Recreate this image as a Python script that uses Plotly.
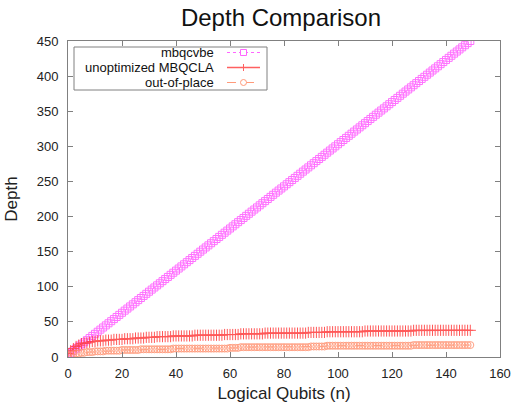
import plotly.graph_objects as go

# Logical qubit counts
n_values = list(range(0, 150))

mbqcvbe = [
    3, 6, 9, 12, 15, 18, 21, 24, 27, 30, 33, 36, 39, 42, 45, 48, 51, 54, 57, 60,
    63, 66, 69, 72, 75, 78, 81, 84, 87, 90, 93, 96, 99, 102, 105, 108, 111, 114, 117, 120,
    123, 126, 129, 132, 135, 138, 141, 144, 147, 150, 153, 156, 159, 162, 165, 168, 171, 174, 177, 180,
    183, 186, 189, 192, 195, 198, 201, 204, 207, 210, 213, 216, 219, 222, 225, 228, 231, 234, 237, 240,
    243, 246, 249, 252, 255, 258, 261, 264, 267, 270, 273, 276, 279, 282, 285, 288, 291, 294, 297, 300,
    303, 306, 309, 312, 315, 318, 321, 324, 327, 330, 333, 336, 339, 342, 345, 348, 351, 354, 357, 360,
    363, 366, 369, 372, 375, 378, 381, 384, 387, 390, 393, 396, 399, 402, 405, 408, 411, 414, 417, 420,
    423, 426, 429, 432, 435, 438, 441, 444, 447, 450,
]

unoptimized_mbqcla = [
    5, 9, 12, 15, 17, 19, 20, 20, 21, 22, 22, 23, 23, 23, 24, 24,
    24, 25, 25, 25, 25, 26, 26, 26, 26, 27, 27, 27, 27, 28, 28, 28,
    28, 29, 29, 29, 29, 29, 29, 30, 30, 30, 30, 30, 30, 30, 30, 31,
    31, 31, 31, 31, 31, 31, 31, 31, 31, 31, 32, 32, 32, 32, 32, 32,
    33, 33, 33, 33, 33, 33, 33, 33, 33, 34, 34, 34, 34, 34, 34, 34,
    34, 34, 34, 34, 34, 34, 34, 34, 34, 35, 35, 35, 35, 35, 35, 35,
    36, 36, 36, 36, 36, 36, 36, 36, 36, 36, 36, 36, 36, 36, 37, 37,
    37, 37, 37, 37, 37, 37, 37, 37, 37, 37, 37, 37, 37, 37, 37, 37,
    38, 38, 38, 38, 38, 38, 38, 38, 38, 38, 38, 38, 38, 38, 38, 38,
    38, 38, 38, 38, 38, 38,
]

out_of_place = [
    2, 3, 4, 5, 5, 6, 6, 7, 7, 7, 8, 8, 8, 8, 9, 9,
    9, 9, 9, 9, 10, 10, 10, 10, 10, 10, 10, 11, 11, 11, 11, 11,
    11, 11, 11, 11, 11, 11, 11, 12, 12, 12, 12, 12, 12, 12, 12, 12,
    12, 12, 12, 12, 12, 12, 12, 12, 12, 12, 12, 12, 13, 13, 13, 13,
    14, 14, 14, 14, 14, 14, 14, 14, 14, 14, 14, 14, 14, 14, 14, 14,
    14, 14, 14, 14, 14, 14, 14, 14, 14, 14, 15, 15, 15, 15, 15, 15,
    16, 16, 16, 16, 16, 16, 16, 16, 16, 16, 16, 16, 16, 16, 16, 16,
    16, 16, 16, 16, 16, 16, 16, 16, 16, 16, 16, 16, 16, 16, 16, 16,
    17, 17, 17, 17, 17, 17, 17, 17, 17, 17, 17, 17, 17, 17, 17, 17,
    17, 17, 17, 17, 17, 17,
]

series_names = ["mbqcvbe", "unoptimized MBQCLA", "out-of-place"]
series_values = [mbqcvbe, unoptimized_mbqcla, out_of_place]
colors = ["#ff4dff", "#ff3030", "#ff8a66"]
marker_sizes = [7, 8, 7]
symbols = ["square-open", "cross-thin-open", "circle-open"]
dashes = ["dot", "solid", "dash"]

FONT = "Liberation Sans, Arial, sans-serif"

# plot area in pixels (for paper-coordinate helpers)
L, R, T, B = 68, 500, 41, 357


def px(xp):
    return (xp - L) / (R - L)


def py(yp):
    return (B - yp) / (B - T)


fig = go.Figure()
for name, vals, col, sym, dash, ms in zip(series_names, series_values, colors, symbols, dashes, marker_sizes):
    fig.add_trace(go.Scatter(
        x=n_values, y=vals, mode="lines+markers", name=name,
        line=dict(color=col, width=1, dash=dash),
        marker=dict(symbol=sym, size=ms, color=col, line=dict(color=col, width=1)),
        opacity=0.8, showlegend=False,
    ))

axis_common = dict(
    showline=True, linecolor="#808080", linewidth=1, mirror="ticks",
    ticks="inside", ticklen=5, tickcolor="#808080", tickwidth=1,
    showgrid=False, zeroline=False, automargin=False,
    tickfont=dict(family=FONT, size=13, color="#222222"),
)

fig.update_layout(
    width=513, height=406,
    margin=dict(l=L, r=513 - R, t=T, b=406 - B),
    paper_bgcolor="white", plot_bgcolor="white",
    title=dict(text="Depth Comparison", x=281 / 513, xanchor="center", y=1 - 18 / 406, yanchor="middle",
               font=dict(family=FONT, size=24, color="#111111")),
    xaxis=dict(range=[0, 160], dtick=20, ticklabelstandoff=4,
               title=dict(text="Logical Qubits (n)", standoff=7,
                          font=dict(family=FONT, size=17, color="#222222")),
               **axis_common),
    yaxis=dict(range=[0, 450], dtick=50, ticklabelstandoff=6,
               title=dict(text="Depth", standoff=14,
                          font=dict(family=FONT, size=17, color="#222222")),
               **axis_common),
    showlegend=False,
)

# gnuplot-style key: frame, right-aligned labels, samples on the right
fig.add_shape(type="rect", xref="paper", yref="paper",
              x0=px(74), x1=px(267), y0=py(90), y1=py(47),
              line=dict(color="#808080", width=1), fillcolor="rgba(0,0,0,0)")
sample_colors = ["#ff66ff", "#ff6060", "#ff9a7a"]
for i, (name, col, sym, dash) in enumerate(zip(series_names, sample_colors, symbols, dashes)):
    yc = 52.5 + 15 * i
    fig.add_annotation(text=name, xref="paper", yref="paper",
                       x=px(216), y=py(yc), xanchor="right", yanchor="middle",
                       showarrow=False, font=dict(family=FONT, size=13, color="#111111"))
    fig.add_shape(type="line", xref="paper", yref="paper",
                  x0=px(227), x1=px(260), y0=py(yc), y1=py(yc),
                  line=dict(color=col, width=1.5 if dash == "solid" else 1, dash=dash))
    mx = 243.5
    if sym == "square-open":
        fig.add_shape(type="rect", xref="paper", yref="paper",
                      x0=px(mx - 3), x1=px(mx + 3), y0=py(yc + 3), y1=py(yc - 3),
                      line=dict(color=col, width=1), fillcolor="white")
    elif sym == "circle-open":
        fig.add_shape(type="circle", xref="paper", yref="paper",
                      x0=px(mx - 3), x1=px(mx + 3), y0=py(yc + 3), y1=py(yc - 3),
                      line=dict(color=col, width=1), fillcolor="white")
    else:
        fig.add_shape(type="line", xref="paper", yref="paper",
                      x0=px(mx), x1=px(mx), y0=py(yc + 3.5), y1=py(yc - 3.5),
                      line=dict(color=col, width=1))

fig.write_html("out.html", config={"displayModeBar": False},
               post_script="document.body.style.margin='0';document.body.style.overflow='hidden';")
